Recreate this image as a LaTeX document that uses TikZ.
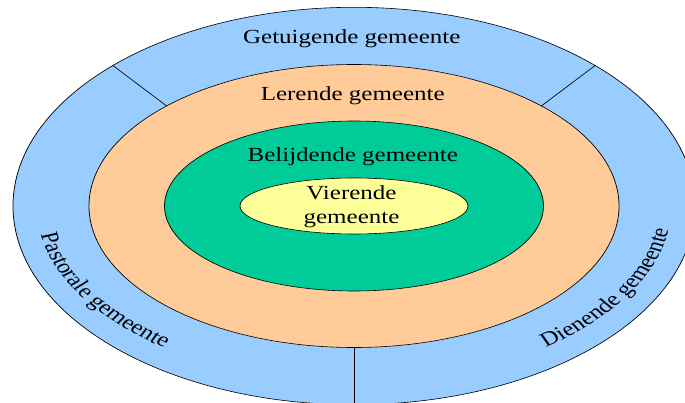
\documentclass[tikz,border=0pt]{standalone}
\usepackage{fontspec}
\setmainfont{Liberation Serif}
\usetikzlibrary{decorations.text}
\definecolor{bandblue}{HTML}{99CCFF}
\definecolor{bandorange}{HTML}{FFCC99}
\definecolor{bandgreen}{HTML}{00CC99}
\definecolor{bandyellow}{HTML}{FFFF99}
\newcommand\curvfont{\fontsize{20}{24}\selectfont}
\begin{document}
\begin{tikzpicture}[x=1pt,y=1pt,
  ring/.style={draw=black, line width=0.6pt},
  divider/.style={draw=black, line width=0.6pt},
  lbl/.style={font=\fontsize{20}{24}\selectfont, inner sep=0pt}]
\useasboundingbox (-354,-196) rectangle (331,206);
\fill[white] (-354,-196) rectangle (331,206);
\begin{scope}[transform canvas={xscale=1.25}]
  % rings
  \draw[ring, fill=bandblue]   (0,0) ellipse [x radius=272.8, y radius=198.7];
  \draw[ring, fill=bandorange] (0,0) ellipse [x radius=212,   y radius=141.5];
  \draw[ring, fill=bandgreen]  (0,0) ellipse [x radius=151.6, y radius=85];
  \draw[ring, fill=bandyellow] (0,0) ellipse [x radius=91.2,  y radius=28];
  % dividers of the outer band
  \coordinate (oul) at (135:272.8 and 198.7);
  \coordinate (iul) at (135:212 and 141.5);
  \coordinate (our) at (45:272.8 and 198.7);
  \coordinate (iur) at (45:212 and 141.5);
  \coordinate (obt) at (270:272.8 and 198.7);
  \coordinate (ibt) at (270:212 and 141.5);
  \draw[divider] (iul) -- (oul);
  \draw[divider] (iur) -- (our);
  \draw[divider] (ibt) -- (obt);
  % labels
  \node[lbl, anchor=base] (getuig) at (-1.8,162.7) {Getuigende gemeente};
  \node[lbl, anchor=base] (leer) at (-1,105.3) {Lerende gemeente};
  \node[lbl, anchor=base] (belijd) at (-1,44.3) {Belijdende gemeente};
  \node[lbl, align=center, anchor=center] (vier) at (-2,-0.6) {Vierende\\gemeente};
  % curved labels
  \path[decorate, decoration={text along path, text align=center,
        text={|\curvfont|Pastorale gemeente}}]
    (178:254 and 177) arc[start angle=178, end angle=242, x radius=254, y radius=177];
  \path[decorate, decoration={text along path, text align=center,
        text={|\curvfont|Dienende gemeente}}]
    (299:254 and 177) arc[start angle=299, end angle=363, x radius=254, y radius=177];
\end{scope}
\end{tikzpicture}
\end{document}
